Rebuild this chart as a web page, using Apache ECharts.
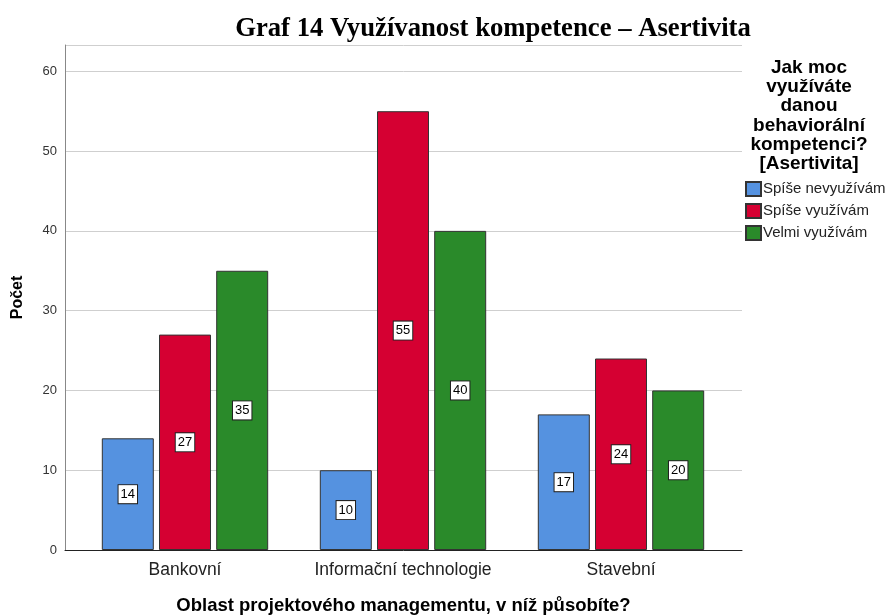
<!DOCTYPE html>
<html>
<head>
<meta charset="utf-8">
<script src="https://cdn.jsdelivr.net/npm/echarts@6/dist/echarts.min.js"></script>
<style>html,body{margin:0;padding:0;background:#fff}#c{width:885px;height:616px}</style>
</head>
<body>
<div id="c"></div>
<script>
const categories = ['Bankovní', 'Informační technologie', 'Stavební'];
const seriesNames = ['Spíše nevyužívám', 'Spíše využívám', 'Velmi využívám'];
const spiseNevyuzivam = [14, 10, 17];
const spiseVyuzivam = [27, 55, 24];
const velmiVyuzivam = [35, 40, 20];
const yTicks = [0, 10, 20, 30, 40, 50, 60];
const colors = ['#5592E0', '#D50032', '#2A8A2A'];

const chart = echarts.init(document.getElementById('c'), null, {renderer: 'canvas'});
const values = [spiseNevyuzivam, spiseVyuzivam, velmiVyuzivam];
const yMax = 63.3;

const option = {
  animation: false,
  title: [
    {text: 'Graf 14 Využívanost kompetence – Asertivita', left: 488, top: 11, textAlign: 'center',
     textStyle: {fontFamily: 'Liberation Serif', fontWeight: 'bold', fontSize: 26.7, color: '#000'}},
    {text: 'Jak moc\nvyužíváte\ndanou\nbehaviorální\nkompetenci?\n[Asertivita]', left: 804, top: 53, textAlign: 'center',
     textStyle: {fontFamily: 'Liberation Sans', fontWeight: 'bold', fontSize: 19, lineHeight: 19.3, color: '#000'}}
  ],
  legend: {
    orient: 'vertical', left: 745, top: 181, padding: 0, itemWidth: 15, itemHeight: 14, itemGap: 6,
    icon: 'rect', data: seriesNames,
    textStyle: {fontFamily: 'Liberation Sans', fontSize: 15, color: '#222', padding: [0,0,0,-3]}
  },
  grid: [
    {left: 65, right: 143, top: 45, bottom: 66, outerBoundsMode: 'none', containLabel: false},
    {left: 76, right: 155, top: 45, bottom: 66, outerBoundsMode: 'none', containLabel: false}
  ],
  xAxis: [
    {type: 'category', gridIndex: 0, data: [''], axisLine: {lineStyle: {color: '#222', width: 1}},
     axisTick: {show: false}, axisLabel: {show: false},
     name: 'Oblast projektového managementu, v níž působíte?', nameLocation: 'middle', nameGap: 46,
     nameTextStyle: {fontFamily: 'Liberation Sans', fontWeight: 'bold', fontSize: 18.5, color: '#000'}},
    {type: 'category', gridIndex: 1, data: categories, axisLine: {show: false}, axisTick: {show: false},
     axisLabel: {interval: 0, hideOverlap: false, fontFamily: 'Liberation Sans', fontSize: 17.5, color: '#222', margin: 11}}
  ],
  yAxis: [
    {type: 'value', gridIndex: 0, min: 0, max: yMax, interval: 10,
     axisLine: {show: true, lineStyle: {color: '#888', width: 1}}, axisTick: {show: false},
     axisLabel: {showMaxLabel: false, fontFamily: 'Liberation Sans', fontSize: 13, color: '#333', margin: 8,
       formatter: v => yTicks.includes(v) ? String(v) : ''},
     splitLine: {show: true, lineStyle: {color: '#cfcfcf', width: 1}},
     name: 'Počet', nameLocation: 'middle', nameGap: 39,
     nameTextStyle: {fontFamily: 'Liberation Sans', fontWeight: 'bold', fontSize: 16, color: '#000'}},
    {type: 'value', gridIndex: 1, min: 0, max: yMax, interval: 10, show: false, splitLine: {show: false}}
  ],
  series: seriesNames.map((n, i) => ({
    name: n, type: 'bar', xAxisIndex: 1, yAxisIndex: 1, data: values[i],
    barWidth: 52, barGap: '10%',
    itemStyle: {color: colors[i], borderColor: '#333', borderWidth: 1},
    label: {show: true, position: 'inside', backgroundColor: '#fff', borderColor: '#222', borderWidth: 1,
      padding: [3, 2, 2, 2], fontFamily: 'Liberation Sans', fontSize: 13, color: '#000'}
  }))
};
chart.setOption(option);
</script>
</body>
</html>
